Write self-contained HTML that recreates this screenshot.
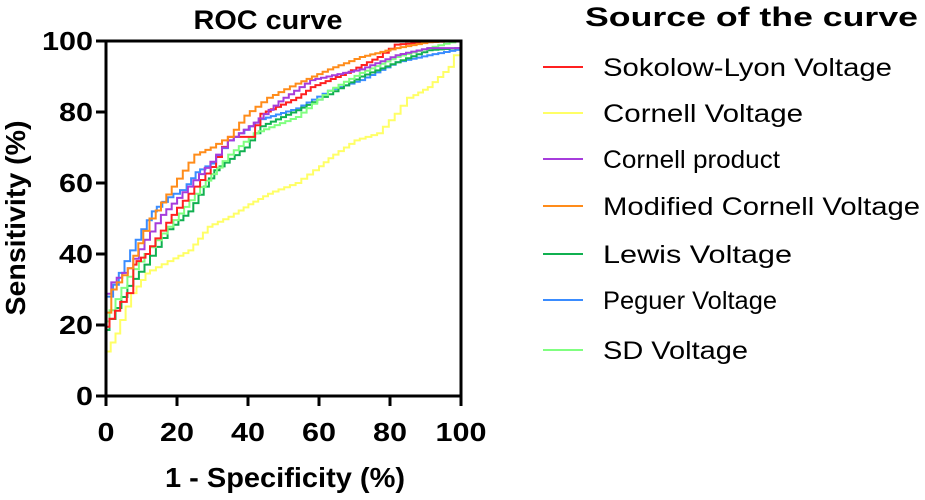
<!DOCTYPE html>
<html><head><meta charset="utf-8"><style>
body{margin:0;background:#fff;width:925px;height:495px;overflow:hidden;font-family:"Liberation Sans",Arial,sans-serif}
</style></head><body>
<svg id="chart" width="925" height="495" xmlns="http://www.w3.org/2000/svg" font-family="Liberation Sans, Arial, sans-serif"></svg>
<script>
const seriesNames=["Sokolow-Lyon Voltage","Cornell Voltage","Cornell product","Modified Cornell Voltage","Lewis  Voltage","Peguer Voltage","SD Voltage"];
const seriesColors=["#ff2020","#ffff66","#a63cdc","#ff8c1a","#10b050","#3a8cff","#80ff80"];
const xTicks=[0,20,40,60,80,100];
const yTicks=[0,20,40,60,80,100];
const redFpr=[0,0,1,4,7.7,8.6,12.4,20,26.5,31,36,42,45,55,59,69,78,83,92,100];
const redTpr=[0,19.5,19.5,24,29,37,40,51,59,64.5,73,73,79.5,84,87,91,95.5,99,99.7,100];
const yelFpr=[0,0,4,8.6,12.4,19,24.6,30,36,41.5,47,55,60,64,71.5,78,83,86.6,92,98,100,100];
const yelTpr=[0,10,17.6,29,34.5,38,41,47.7,50.5,54,57,60,63.6,67,72,74,79.5,84,87,92.7,96,100];
const purFpr=[0,0,3,7.7,12.4,17,24.6,31,36,43,50,59,73,83,92,100,100];
const purTpr=[0,25.6,32,36,44,51,59,66,72,77,83,89,92,96,98,98,100];
const oraFpr=[0,0,3,7.7,10.5,14,20,26.5,31,36,40.5,47,55,64,73,83,92,100];
const oraTpr=[0,17,30,36,43,50,59,68,70,73,79,84,88,92,95.5,98,99.7,100];
const grnFpr=[0,0,1,7.7,12.4,19,24.6,29,32,40.5,45,55,64,73,83,92,100,100];
const grnTpr=[0,17,18.6,31,37,47,52,59,63.6,70,76,80.5,85,90,94,97.4,98,100];
const bluFpr=[0,0,2,6.8,11.5,14.3,19,22.7,26.5,31,36,45,55,64,73,83,92,100,100];
const bluTpr=[0,24,28,38,47,52,56,58,63,65.5,72,78,81,86,89,94,96,97.5,100];
const sdFpr=[0,0,1,7.7,12.4,19,26.5,36,43,55,64,73,83,92,100];
const sdTpr=[0,18,21,33.6,40,47.7,57,68,74,78.6,86,91,95.5,98,100];
const allFpr=[redFpr,yelFpr,purFpr,oraFpr,grnFpr,bluFpr,sdFpr];
const allTpr=[redTpr,yelTpr,purTpr,oraTpr,grnTpr,bluTpr,sdTpr];

const X0=106,X1=461,Y0=396,Y1=41;
const sx=v=>X0+(X1-X0)*v/100, sy=v=>Y0-(Y0-Y1)*v/100;
const svg=document.getElementById('chart');
const NS="http://www.w3.org/2000/svg";
function mk(t,a,txt){const e=document.createElementNS(NS,t);for(const k in a)e.setAttribute(k,a[k]);if(txt!==undefined)e.textContent=txt;svg.appendChild(e);return e;}

const order=[1,5,4,6,0,2,3];
order.forEach(i=>{
 const f=allFpr[i],t=allTpr[i];
 let d="M"+sx(f[0])+","+sy(t[0]);
 for(let k=1;k<f.length;k++){
   const x0=f[k-1],x1=f[k],y0=t[k-1],y1=t[k];
   const n=Math.max(1,Math.round(Math.abs(x1-x0)/1.5));
   for(let j=1;j<=n;j++){
     const xa=x0+(x1-x0)*j/n, ya=y0+(y1-y0)*j/n;
     d+=" V"+sy(ya).toFixed(1)+" H"+sx(xa).toFixed(1);
   }
 }
 const p=mk('path',{d:d,fill:'none',stroke:seriesColors[i],'stroke-width':2});
 
 
});

const ax=mk('path',{d:`M${X0},${Y1} V${Y0} H${X1} V${Y1} H${X0}`,fill:'none',stroke:'#000','stroke-width':3});


const tw=v=>String(v).length*17;
xTicks.forEach(v=>{
 mk('line',{x1:sx(v),x2:sx(v),y1:Y0,y2:Y0+10,stroke:'#000','stroke-width':3});
 const t=mk('text',{x:sx(v),y:Y0+45,'text-anchor':'middle','font-size':26,'font-weight':'bold',textLength:tw(v),lengthAdjust:'spacingAndGlyphs'},v);
 
 
});
yTicks.forEach(v=>{
 mk('line',{x1:X0-10,x2:X0,y1:sy(v),y2:sy(v),stroke:'#000','stroke-width':3});
 const t=mk('text',{x:X0-13,y:sy(v)+9,'text-anchor':'end','font-size':26,'font-weight':'bold',textLength:tw(v),lengthAdjust:'spacingAndGlyphs'},v);
 
 
});
let e;
e=mk('text',{x:268,y:29,'text-anchor':'middle','font-size':27,'font-weight':'bold',textLength:149,lengthAdjust:'spacingAndGlyphs'},'ROC curve');

e=mk('text',{x:285,y:487,'text-anchor':'middle','font-size':28,'font-weight':'bold',textLength:240,lengthAdjust:'spacingAndGlyphs'},'1 - Specificity (%)');

e=mk('text',{x:0,y:0,'text-anchor':'middle','font-size':28,'font-weight':'bold',transform:'translate(25,218) rotate(-90)',textLength:195,lengthAdjust:'spacingAndGlyphs'},'Sensitivity (%)');

e=mk('text',{x:585,y:26,'font-size':27,'font-weight':'bold',textLength:333,lengthAdjust:'spacingAndGlyphs'},'Source of the curve');

const legY=[67,113,159,206,254,300,350];
const legW=[289,200,177,317,189,174,145];
seriesNames.forEach((n,i)=>{
 const l=mk('line',{x1:543,x2:583,y1:legY[i],y2:legY[i],stroke:seriesColors[i],'stroke-width':2});
 
 
 const t=mk('text',{x:603,y:legY[i]+9,'font-size':25,textLength:legW[i],lengthAdjust:'spacingAndGlyphs'},n);
 
 
});
</script>
</body></html>
